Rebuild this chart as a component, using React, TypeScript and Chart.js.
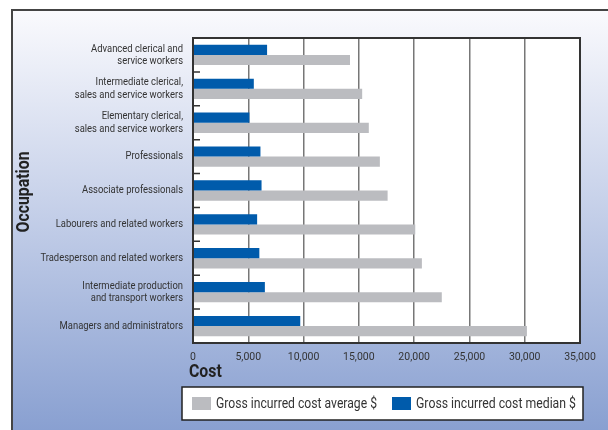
import React, { useEffect, useRef } from "react";
import { Chart, registerables } from "chart.js";

Chart.register(...registerables);

const categories: string[][] = [
  ["Advanced clerical and", "service workers"],
  ["Intermediate clerical,", "sales and service workers"],
  ["Elementary clerical,", "sales and service workers"],
  ["Professionals"],
  ["Associate professionals"],
  ["Labourers and related workers"],
  ["Tradesperson and related workers"],
  ["Intermediate production", "and transport workers"],
  ["Managers and administrators"],
];

const medianCost = [6700, 5500, 5100, 6100, 6200, 5800, 6000, 6500, 9700];
const averageCost = [14200, 15300, 15900, 16900, 17600, 20100, 20700, 22500, 30200];

const medianLabel = "Gross incurred cost median $";
const averageLabel = "Gross incurred cost average $";
const xTitle = "Cost";
const yTitle = "Occupation";

const FONT = 'Roboto, "DejaVu Sans Condensed", Arial, sans-serif';
const BLUE = "#005bab";
const GRAY = "#bbbcc0";

function condensedText(ctx: any, text: string, x: number, y: number, sx: number) {
  ctx.save();
  ctx.translate(x, y);
  ctx.scale(sx, 1);
  ctx.fillText(text, 0, 0);
  ctx.restore();
}

const decorPlugin = {
  id: "decor",
  beforeDraw(chart: any) {
    const { ctx, chartArea: a, width, height } = chart;
    ctx.save();
    ctx.fillStyle = "#ffffff";
    ctx.fillRect(0, 0, width, height);
    const g = ctx.createLinearGradient(0, 10, 0, height);
    g.addColorStop(0, "#fafafd");
    g.addColorStop(0.45, "#c8d2ea");
    g.addColorStop(1, "#89a0d1");
    ctx.fillStyle = g;
    ctx.fillRect(11, 10, width - 11, height - 10);
    ctx.strokeStyle = "#444";
    ctx.lineWidth = 2;
    ctx.beginPath();
    ctx.moveTo(12, height);
    ctx.lineTo(12, 10);
    ctx.lineTo(width, 10);
    ctx.stroke();
    ctx.fillStyle = "#ffffff";
    ctx.fillRect(a.left, a.top, a.width, a.height);
    ctx.restore();
  },
  afterDraw(chart: any) {
    const { ctx, chartArea: a } = chart;
    const yScale = chart.scales.y;
    ctx.save();
    ctx.strokeStyle = "#333";
    ctx.lineWidth = 2;
    ctx.strokeRect(a.left, a.top, a.width, a.height);
    ctx.lineWidth = 1.5;
    ctx.beginPath();
    for (let i = 0; i < categories.length - 1; i++) {
      const y = yScale.getPixelForValue(i + 0.5);
      ctx.moveTo(a.left, y);
      ctx.lineTo(a.left + 7, y);
    }
    ctx.stroke();
    // category labels (condensed)
    ctx.fillStyle = "#333";
    ctx.font = `11.5px ${FONT}`;
    ctx.textBaseline = "middle";
    ctx.textAlign = "right";
    const lh = 12.5;
    (chart.data.labels as string[][]).forEach((lines, i) => {
      const yc = yScale.getPixelForValue(i);
      const y0 = yc - ((lines.length - 1) * lh) / 2;
      lines.forEach((t, j) => condensedText(ctx, t, a.left - 10, y0 + j * lh, 0.82));
    });
    // titles
    ctx.fillStyle = "#222";
    ctx.font = `bold 18px ${FONT}`;
    ctx.textAlign = "left";
    condensedText(ctx, xTitle, 189, 372, 0.88);
    ctx.save();
    ctx.translate(24, 192);
    ctx.rotate(-Math.PI / 2);
    ctx.textAlign = "center";
    condensedText(ctx, yTitle, 0, 0, 0.88);
    ctx.restore();
    // legend
    ctx.fillStyle = "#ffffff";
    ctx.fillRect(182, 387, 401, 33);
    ctx.strokeStyle = "#222";
    ctx.lineWidth = 1.5;
    ctx.strokeRect(182, 387, 401, 33);
    const ds = chart.data.datasets;
    const items = [ds[1], ds[0]];
    const xs = [192, 392];
    const widths = [161, 160];
    ctx.font = `14px ${FONT}`;
    ctx.textAlign = "left";
    items.forEach((d: any, i: number) => {
      ctx.fillStyle = d.backgroundColor;
      ctx.fillRect(xs[i], 397, 19, 13);
      ctx.fillStyle = "#333";
      const w = ctx.measureText(d.label).width;
      condensedText(ctx, d.label, xs[i] + 24, 404, Math.min(1, widths[i] / w));
    });
    ctx.restore();
  },
};

export default function App() {
  const ref = useRef<HTMLCanvasElement>(null);
  useEffect(() => {
    if (!ref.current) return;
    const chart = new Chart(ref.current, {
      type: "bar",
      data: {
        labels: categories,
        datasets: [
          {
            label: medianLabel,
            data: medianCost,
            backgroundColor: BLUE,
            categoryPercentage: 0.6,
            barPercentage: 1,
          },
          {
            label: averageLabel,
            data: averageCost,
            backgroundColor: GRAY,
            categoryPercentage: 0.6,
            barPercentage: 1,
          },
        ],
      },
      options: {
        indexAxis: "y",
        animation: false,
        responsive: false,
        maintainAspectRatio: false,
        layout: { padding: { left: 0, right: 28, top: 38, bottom: 0 } },
        plugins: { legend: { display: false }, tooltip: { enabled: false } },
        scales: {
          x: {
            type: "linear",
            min: 0,
            max: 35000,
            border: { display: false },
            grid: { color: "#777", lineWidth: 1.5, drawTicks: false },
            ticks: {
              stepSize: 5000,
              padding: 8,
              color: "#333",
              font: { family: FONT, size: 10.5 },
              callback: (v: any) => Number(v).toLocaleString("en-US"),
            },
            afterFit: (s: any) => {
              s.height = 87;
            },
          },
          y: {
            type: "category",
            offset: true,
            border: { display: false },
            grid: { display: false, drawTicks: false },
            ticks: { display: false },
            afterFit: (s: any) => {
              s.width = 193;
            },
          },
        },
      },
      plugins: [decorPlugin],
    });
    return () => chart.destroy();
  }, []);
  return (
    <div style={{ position: "absolute", left: 0, top: 0, width: 608, height: 430 }}>
      <canvas ref={ref} width={608} height={430} style={{ width: 608, height: 430 }} />
    </div>
  );
}
